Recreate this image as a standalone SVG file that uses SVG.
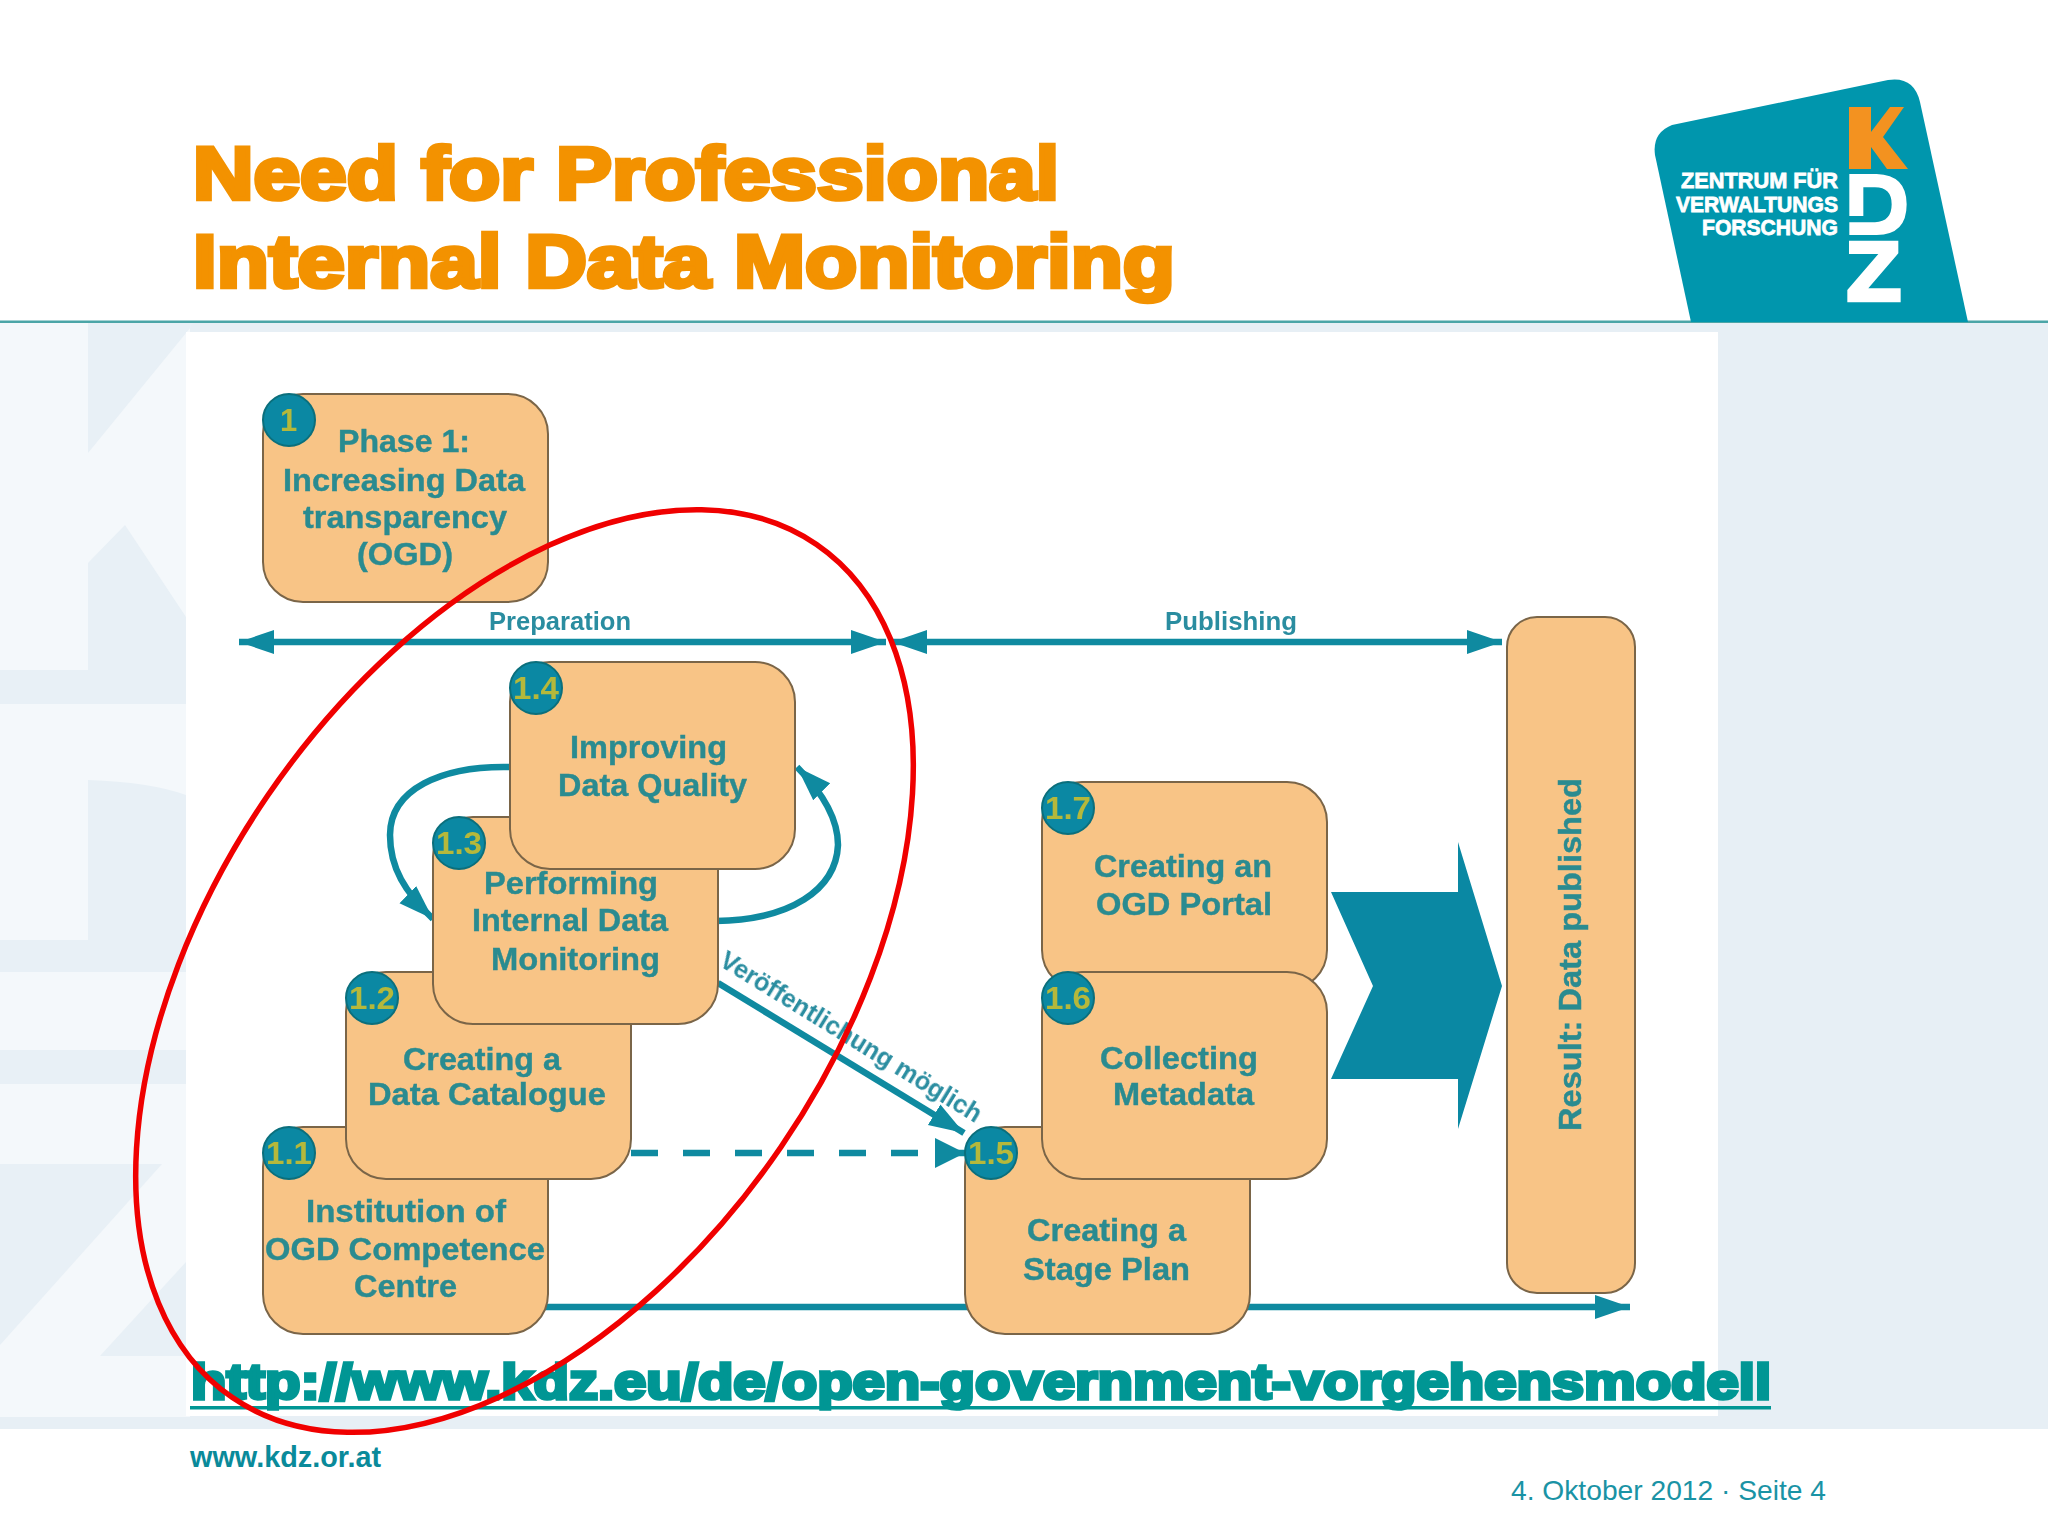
<svg xmlns="http://www.w3.org/2000/svg" width="2048" height="1536" viewBox="0 0 2048 1536">
<style>
text{font-family:"Liberation Sans",Arial,sans-serif}
.box{fill:#f8c486;stroke:#7a6548;stroke-width:2}
.badge{fill:#0b88a3;stroke:#0b6f7c;stroke-width:2}
.num{font-size:31px;font-weight:bold;fill:#b5b83a;text-anchor:start;filter:url(#soft)}
.lbl{font-size:31px;font-weight:bold;fill:#2a8b90;stroke:#2a8b90;stroke-width:.4;filter:url(#soft)}
.cap{font-size:26px;font-weight:bold;fill:#2a8da0;filter:url(#soft)}
.ln{fill:none;stroke:#0f8aa0;stroke-width:6.500}
.title{font-size:74px;font-weight:bold;fill:#f39200;stroke:#f39200;stroke-width:4.500}
.logo{font-size:22px;font-weight:bold;fill:#fff;stroke:#fff;stroke-width:.8;text-anchor:end}
.wm{fill:#e8f0f6}
</style>
<defs>
<filter id="soft" x="-5%" y="-20%" width="110%" height="140%"><feGaussianBlur stdDeviation=".6"/></filter>
<marker id="head" markerUnits="userSpaceOnUse" markerWidth="40" markerHeight="30" refX="35" refY="15" orient="auto-start-reverse"><path d="M0,3 L35,15 L0,27 Z" fill="#0f8aa0"/></marker>
<marker id="headS" markerUnits="userSpaceOnUse" markerWidth="36" markerHeight="36" refX="30" refY="18" orient="auto"><path d="M0,3 L30,18 L0,33 Z" fill="#0f8aa0"/></marker>
</defs>
<rect width="2048" height="1536" fill="#fff"/>
<g id="background">
<rect x="0" y="322" width="2048" height="1107" fill="#e7eff5"/>
<rect x="0" y="322" width="190" height="1095" fill="#f4f8fb"/>
<path class="wm" d="M88,322H195L88,453Z"/>
<path class="wm" d="M88,563L125,525L186,617V704H0V670H88Z"/>
<path class="wm" d="M88,780Q150,782 186,795V972H0V940H88Z"/>
<rect class="wm" x="0" y="1050" width="186" height="34"/>
<path class="wm" d="M0,1164H162L0,1345Z"/>
<path class="wm" d="M100,1356L186,1262V1356Z"/>
<rect x="186" y="332" width="1532" height="1084" fill="#fff"/>
<rect x="0" y="320.500" width="2048" height="2.500" fill="#4ba5a7"/>
</g>
<g id="logo">
<path fill="#0096ad" d="M1691,322L1655,155Q1652,133 1672,125L1888,80Q1914,76 1920,102L1968,322Z"/>
<path fill="#f39220" d="M1849,107H1871V132L1890,107H1904L1883,137L1908,169H1887L1871,147V169H1849Z"/>
<g transform="translate(1830,100) scale(.3333)" fill="#fff">
<path d="M58,222H140Q230,225 230,313Q230,405 140,405H58V367H135Q185,365 185,313Q185,262 135,262H100V348H58Z"/>
<path d="M57,422H205V460L115,565H212V607H52V570L145,462H57Z"/>
</g>
<text class="logo" x="1838" y="188" textLength="157" lengthAdjust="spacingAndGlyphs">ZENTRUM FÜR</text>
<text class="logo" x="1838" y="212" textLength="162" lengthAdjust="spacingAndGlyphs">VERWALTUNGS</text>
<text class="logo" x="1838" y="235" textLength="136" lengthAdjust="spacingAndGlyphs">FORSCHUNG</text>
</g>
<g id="title">
<text class="title" x="193" y="199" textLength="866" lengthAdjust="spacingAndGlyphs">Need for Professional</text>
<text class="title" x="193" y="287" textLength="982" lengthAdjust="spacingAndGlyphs">Internal Data Monitoring</text>
</g>
<g id="connectors">
<path class="ln" d="M239,642H886" marker-start="url(#head)" marker-end="url(#head)"/>
<path class="ln" d="M892,642H1502" marker-start="url(#head)" marker-end="url(#head)"/>
<path class="ln" d="M540,1307H1630" marker-end="url(#head)"/>
<path class="ln" d="M631,1153H965" stroke-dasharray="27 25" marker-end="url(#headS)"/>
<path class="ln" d="M718,983L964,1133" marker-end="url(#head)"/>
<path class="ln" d="M512,767C440,765 390,790 390,835C390,868 405,892 433,919" marker-end="url(#head)"/>
<path class="ln" d="M716,921C790,920 836,890 838,845C838,820 825,795 797,767" marker-end="url(#head)"/>
<text class="cap" x="489" y="630" textLength="142" lengthAdjust="spacingAndGlyphs">Preparation</text>
<text class="cap" x="1165" y="630" textLength="132" lengthAdjust="spacingAndGlyphs">Publishing</text>
<text class="cap" transform="translate(718,965) rotate(31.600)" textLength="302" lengthAdjust="spacingAndGlyphs">Veröffentlichung möglich</text>
</g>
<g id="node-1"><rect class="box" x="263" y="394" width="285" height="208" rx="40"/><circle class="badge" cx="289" cy="420" r="26"/><text class="num" x="280" y="431">1</text>
<text class="lbl" x="338" y="452" textLength="132" lengthAdjust="spacingAndGlyphs">Phase 1:</text><text class="lbl" x="283" y="491" textLength="242" lengthAdjust="spacingAndGlyphs">Increasing Data</text><text class="lbl" x="303" y="528" textLength="204" lengthAdjust="spacingAndGlyphs">transparency</text><text class="lbl" x="357" y="565" textLength="96" lengthAdjust="spacingAndGlyphs">(OGD)</text></g>
<g id="node-1-1"><rect class="box" x="263" y="1127" width="285" height="207" rx="40"/><circle class="badge" cx="289" cy="1153" r="26"/><text class="num" x="266" y="1164" textLength="46" lengthAdjust="spacingAndGlyphs">1.1</text>
<text class="lbl" x="306" y="1222" textLength="200" lengthAdjust="spacingAndGlyphs">Institution of</text><text class="lbl" x="265" y="1260" textLength="280" lengthAdjust="spacingAndGlyphs">OGD Competence</text><text class="lbl" x="354" y="1297" textLength="103" lengthAdjust="spacingAndGlyphs">Centre</text></g>
<g id="node-1-2"><rect class="box" x="346" y="972" width="285" height="207" rx="40"/><circle class="badge" cx="372" cy="998" r="26"/><text class="num" x="349" y="1009" textLength="46" lengthAdjust="spacingAndGlyphs">1.2</text>
<text class="lbl" x="403" y="1070" textLength="158" lengthAdjust="spacingAndGlyphs">Creating a</text><text class="lbl" x="368" y="1105" textLength="238" lengthAdjust="spacingAndGlyphs">Data Catalogue</text></g>
<g id="node-1-3"><rect class="box" x="433" y="817" width="285" height="207" rx="40"/><circle class="badge" cx="459" cy="843" r="26"/><text class="num" x="436" y="854" textLength="46" lengthAdjust="spacingAndGlyphs">1.3</text>
<text class="lbl" x="484" y="894" textLength="174" lengthAdjust="spacingAndGlyphs">Performing</text><text class="lbl" x="472" y="931" textLength="196" lengthAdjust="spacingAndGlyphs">Internal Data</text><text class="lbl" x="491" y="970" textLength="169" lengthAdjust="spacingAndGlyphs">Monitoring</text></g>
<g id="node-1-4"><rect class="box" x="510" y="662" width="285" height="207" rx="40"/><circle class="badge" cx="536" cy="688" r="26"/><text class="num" x="513" y="699" textLength="46" lengthAdjust="spacingAndGlyphs">1.4</text>
<text class="lbl" x="570" y="758" textLength="157" lengthAdjust="spacingAndGlyphs">Improving</text><text class="lbl" x="558" y="796" textLength="189" lengthAdjust="spacingAndGlyphs">Data Quality</text></g>
<g id="node-1-5"><rect class="box" x="965" y="1127" width="285" height="207" rx="40"/><circle class="badge" cx="991" cy="1153" r="26"/><text class="num" x="968" y="1164" textLength="46" lengthAdjust="spacingAndGlyphs">1.5</text>
<text class="lbl" x="1027" y="1241" textLength="159" lengthAdjust="spacingAndGlyphs">Creating a</text><text class="lbl" x="1023" y="1280" textLength="167" lengthAdjust="spacingAndGlyphs">Stage Plan</text></g>
<g id="node-1-7"><rect class="box" x="1042" y="782" width="285" height="208" rx="40"/><circle class="badge" cx="1068" cy="808" r="26"/><text class="num" x="1045" y="819" textLength="46" lengthAdjust="spacingAndGlyphs">1.7</text>
<text class="lbl" x="1094" y="877" textLength="178" lengthAdjust="spacingAndGlyphs">Creating an</text><text class="lbl" x="1096" y="915" textLength="176" lengthAdjust="spacingAndGlyphs">OGD Portal</text></g>
<g id="node-1-6"><rect class="box" x="1042" y="972" width="285" height="207" rx="40"/><circle class="badge" cx="1068" cy="998" r="26"/><text class="num" x="1045" y="1009" textLength="46" lengthAdjust="spacingAndGlyphs">1.6</text>
<text class="lbl" x="1100" y="1069" textLength="158" lengthAdjust="spacingAndGlyphs">Collecting</text><text class="lbl" x="1113" y="1105" textLength="141" lengthAdjust="spacingAndGlyphs">Metadata</text></g>
<g id="node-result"><rect class="box" x="1507" y="617" width="128" height="676" rx="30"/>
<text class="lbl" transform="translate(1581,1131) rotate(-90)" textLength="353" lengthAdjust="spacingAndGlyphs">Result: Data published</text></g>
<polygon id="chevron" fill="#0a88a3" points="1331,892 1458,892 1458,842 1502,986 1458,1129 1458,1079 1331,1079 1373,986"/>
<g id="footer">
<text x="191" y="1399" font-size="50" font-weight="bold" fill="#009694" stroke="#009694" stroke-width="3.500" textLength="1580" lengthAdjust="spacingAndGlyphs">http://www.kdz.eu/de/open-government-vorgehensmodell</text>
<rect x="190" y="1406" width="1581" height="3.500" fill="#009694"/>
<text x="190" y="1467" font-size="29" font-weight="bold" fill="#0a8a9a" textLength="191" lengthAdjust="spacingAndGlyphs">www.kdz.or.at</text>
<text x="1511" y="1500" font-size="28" fill="#1a93a5" textLength="315" lengthAdjust="spacingAndGlyphs">4. Oktober 2012 · Seite 4</text>
</g>
<ellipse id="highlight" cx="524.500" cy="971" rx="517" ry="311" transform="rotate(-55.600 524.500 971)" fill="none" stroke="#f00000" stroke-width="5.500"/>
</svg>
